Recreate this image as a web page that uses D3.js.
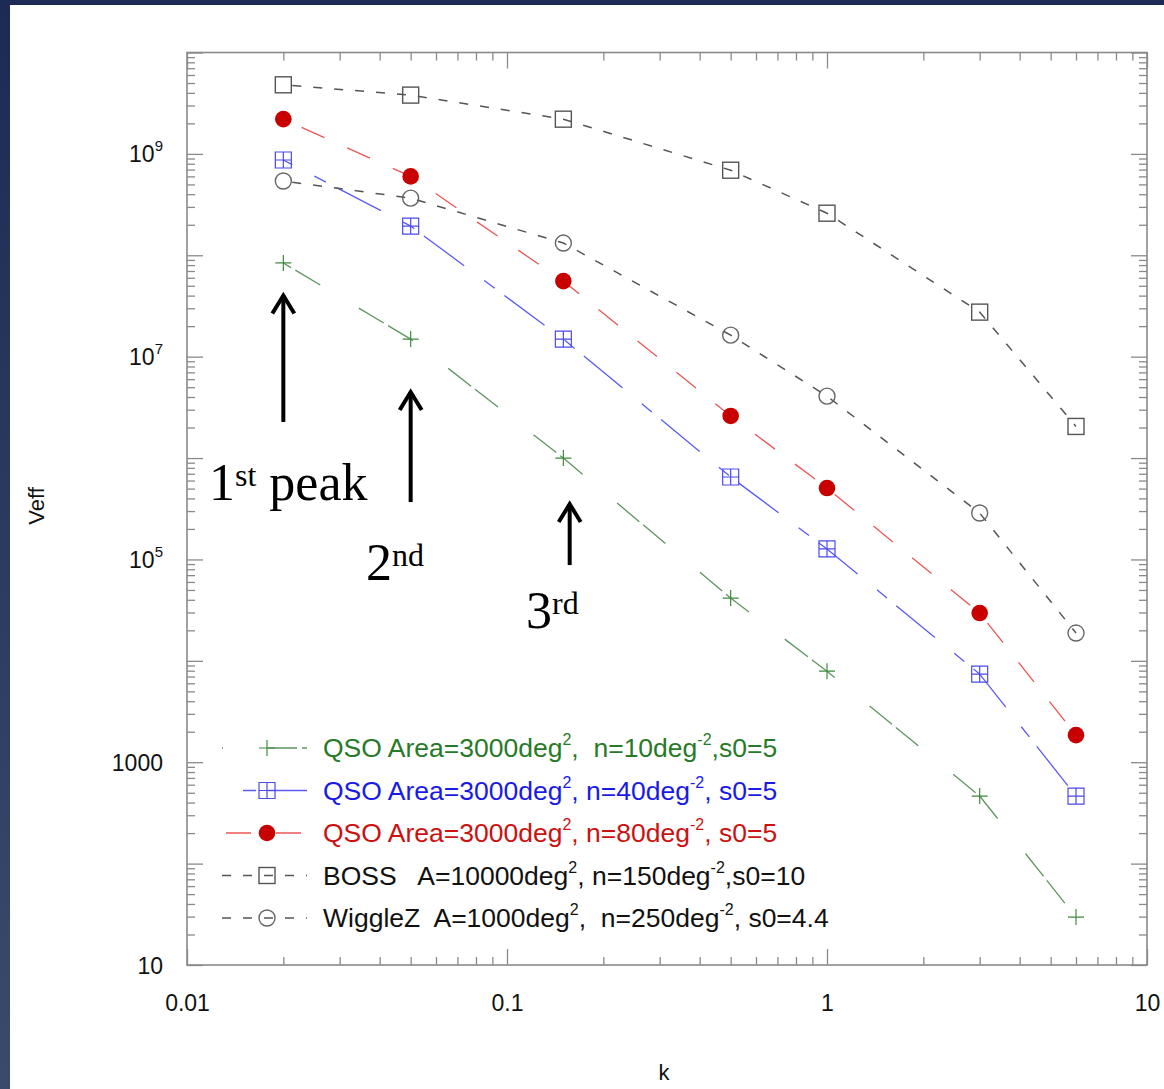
<!DOCTYPE html>
<html>
<head>
<meta charset="utf-8">
<script src="https://cdn.jsdelivr.net/npm/d3@7"></script>
<style>
  html, body { margin: 0; padding: 0; }
  body { width: 1164px; height: 1089px; overflow: hidden; background: #1c2c55; }
  svg text { font-family: "Liberation Sans", Arial, Helvetica, sans-serif; }
  svg text.serif { font-family: "Liberation Serif", "Times New Roman", serif; }
</style>
</head>
<body>
<svg id="chart" width="1164" height="1089"></svg>
<script>
// ---------------- data ----------------
const kValues = [0.02, 0.05, 0.15, 0.5, 1, 3, 6];
const qso10   = [8.4e7, 1.49e7, 1.0e6, 4.16e4, 7.9e3, 464, 29.7];
const qso40   = [8.7e8, 1.94e8, 1.49e7, 6.5e5, 1.27e5, 7.4e3, 464];
const qso80   = [2.2e9, 6.0e8, 5.56e7, 2.6e6, 5.06e5, 2.96e4, 1.85e3];
const boss    = [4.8e9, 3.8e9, 2.2e9, 6.9e8, 2.6e8, 2.75e7, 2.05e6];
const wigglez = [5.4e8, 3.66e8, 1.32e8, 1.63e7, 4.08e6, 2.87e5, 1.88e4];

const xTickValues = [0.01, 0.1, 1, 10];
const xTickLabels = ["0.01", "0.1", "1", "10"];
const yTickValues = [10, 1e3, 1e5, 1e7, 1e9];
const yTickLabels = [["10", ""], ["1000", ""], ["10", "5"], ["10", "7"], ["10", "9"]];

const legendNames = [
  [["QSO Area=3000deg", ""], ["2", "sup"], [",  n=10deg", ""], ["-2", "sup"], [",s0=5", ""]],
  [["QSO Area=3000deg", ""], ["2", "sup"], [", n=40deg", ""], ["-2", "sup"], [", s0=5", ""]],
  [["QSO Area=3000deg", ""], ["2", "sup"], [", n=80deg", ""], ["-2", "sup"], [", s0=5", ""]],
  [["BOSS   A=10000deg", ""], ["2", "sup"], [", n=150deg", ""], ["-2", "sup"], [",s0=10", ""]],
  [["WiggleZ  A=1000deg", ""], ["2", "sup"], [",  n=250deg", ""], ["-2", "sup"], [", s0=4.4", ""]]
];

// annotation arrows (data space: k, Veff from -> to)
const peakArrows = [
  { k: 0.02,  from: 2.27e6, to: 4.2e7 },
  { k: 0.05,  from: 3.68e5, to: 4.69e6 },
  { k: 0.157, from: 8.8e4,  to: 3.68e5 }
];

// ---------------- setup ----------------
const svg = d3.select("#chart");

const defs = svg.append("defs");
const grad = defs.append("linearGradient").attr("id", "bg").attr("x1", 0).attr("y1", 0).attr("x2", 0).attr("y2", 1);
grad.append("stop").attr("offset", "0%").attr("stop-color", "#1b2b54");
grad.append("stop").attr("offset", "100%").attr("stop-color", "#3b4a6c");
svg.append("rect").attr("x", 0).attr("y", 0).attr("width", 1164).attr("height", 1089).attr("fill", "url(#bg)");
svg.append("rect").attr("x", 10).attr("y", 5).attr("width", 1154).attr("height", 1084).attr("fill", "#ffffff");

const L = 187, R = 1147, T = 52.5, B = 965;
const x = d3.scaleLog().domain([0.01, 10]).range([L, R]);
const y = d3.scaleLog().domain([10, 1e10]).range([B, T]);

const xMinor = [];
[0.01, 0.1, 1].forEach(d => { for (let m = 2; m <= 9; m++) xMinor.push(d * m); });
const xMajor = [0.01, 0.1, 1, 10];
const yMinor = [];
const yMajor = [];
for (let p = 1; p <= 10; p++) {
  yMajor.push(Math.pow(10, p));
  if (p < 10) for (let m = 2; m <= 9; m++) yMinor.push(m * Math.pow(10, p));
}

const axisColor = "#8a8a8a";
function styleAxis(g) {
  g.select(".domain").remove();
  g.selectAll(".tick line").attr("stroke", axisColor).attr("stroke-width", 1.3);
}

// bottom
svg.append("g").attr("transform", `translate(0,${B})`)
  .call(d3.axisBottom(x).tickValues(xMinor).tickSize(-8).tickFormat("")).call(styleAxis);
const xAx = svg.append("g").attr("transform", `translate(0,${B})`)
  .call(d3.axisBottom(x).tickValues(xMajor).tickSize(-16).tickPadding(30)
    .tickFormat(d => xTickLabels[xTickValues.indexOf(d)])).call(styleAxis);
xAx.selectAll("text").attr("fill", "#111").attr("font-size", 23);
// top
svg.append("g").attr("transform", `translate(0,${T})`)
  .call(d3.axisTop(x).tickValues(xMinor).tickSize(-8).tickFormat("")).call(styleAxis);
svg.append("g").attr("transform", `translate(0,${T})`)
  .call(d3.axisTop(x).tickValues(xMajor).tickSize(-16).tickFormat("")).call(styleAxis);
// left
svg.append("g").attr("transform", `translate(${L},0)`)
  .call(d3.axisLeft(y).tickValues(yMinor).tickSize(-8).tickFormat("")).call(styleAxis);
svg.append("g").attr("transform", `translate(${L},0)`)
  .call(d3.axisLeft(y).tickValues(yMajor).tickSize(-16).tickFormat("")).call(styleAxis);
const yAx = svg.append("g").attr("transform", `translate(${L},0)`)
  .call(d3.axisLeft(y).tickValues(yTickValues).tickSize(0).tickPadding(24).tickFormat(""));
yAx.select(".domain").remove();
yAx.selectAll(".tick text").each(function (d) {
  const lab = yTickLabels[yTickValues.indexOf(d)];
  const t = d3.select(this).attr("fill", "#111").attr("font-size", 23).attr("dy", "0.35em");
  t.append("tspan").text(lab[0]);
  if (lab[1]) t.append("tspan").attr("font-size", 15).attr("dy", "-0.75em").text(lab[1]);
});
// right
svg.append("g").attr("transform", `translate(${R},0)`)
  .call(d3.axisRight(y).tickValues(yMinor).tickSize(-8).tickFormat("")).call(styleAxis);
svg.append("g").attr("transform", `translate(${R},0)`)
  .call(d3.axisRight(y).tickValues(yMajor).tickSize(-16).tickFormat("")).call(styleAxis);

// frame
svg.append("rect").attr("x", L).attr("y", T).attr("width", R - L).attr("height", B - T)
  .attr("fill", "none").attr("stroke", axisColor).attr("stroke-width", 1.6);

// axis titles
svg.append("text").attr("x", 664).attr("y", 1080).attr("text-anchor", "middle")
  .attr("font-size", 22).attr("fill", "#111").text("k");
svg.append("text").attr("transform", "translate(44,506) rotate(-90)").attr("text-anchor", "middle")
  .attr("font-size", 22).attr("fill", "#111").text("Veff");

// ---------------- series ----------------
const series = [
  { vals: qso10,   line: "#5f955f", text: "#277a27", dash: "29,5,29,45", off: 20,  lw: 1.3, marker: "plus",    mcol: "#3f8a3f", legOff: 62 },
  { vals: qso40,   line: "#5a5af5", text: "#1a1ae6", dash: "50,25,13,12", off: 40, lw: 1.3, marker: "boxplus", mcol: "#4a4af0", legOff: 54 },
  { vals: qso80,   line: "#ee5555", text: "#cc1111", dash: "25,25", off: 30,      lw: 1.3, marker: "dot",     mcol: "#c80000", legOff: 46 },
  { vals: boss,    line: "#555555", text: "#111111", dash: "9,12", off: 12,       lw: 1.5, marker: "square",  mcol: "#555555", legOff: 0 },
  { vals: wigglez, line: "#555555", text: "#111111", dash: "9,12", off: 12,       lw: 1.5, marker: "circle",  mcol: "#666666", legOff: 0 }
];

const lineGen = d3.line().x(d => x(d[0])).y(d => y(d[1]));

function drawMarker(g, type, cx, cy, col) {
  const s = 8;
  if (type === "plus") {
    g.append("path").attr("d", `M${cx - s},${cy}H${cx + s}M${cx},${cy - s}V${cy + s}`)
      .attr("stroke", col).attr("stroke-width", 1.2).attr("fill", "none");
  } else if (type === "boxplus") {
    g.append("path").attr("d", `M${cx - s},${cy - s}h${2 * s}v${2 * s}h${-2 * s}ZM${cx - s},${cy}H${cx + s}M${cx},${cy - s}V${cy + s}`)
      .attr("stroke", col).attr("stroke-width", 1.2).attr("fill", "none");
  } else if (type === "dot") {
    g.append("circle").attr("cx", cx).attr("cy", cy).attr("r", 8.3).attr("fill", col);
  } else if (type === "square") {
    g.append("rect").attr("x", cx - s).attr("y", cy - s).attr("width", 2 * s).attr("height", 2 * s)
      .attr("stroke", col).attr("stroke-width", 1.4).attr("fill", "none");
  } else if (type === "circle") {
    g.append("circle").attr("cx", cx).attr("cy", cy).attr("r", 8)
      .attr("stroke", col).attr("stroke-width", 1.4).attr("fill", "none");
  }
}

const plot = svg.append("g");
series.forEach(s => {
  const pts = kValues.map((k, i) => [k, s.vals[i]]);
  plot.append("path").attr("d", lineGen(pts)).attr("fill", "none")
    .attr("stroke", s.line).attr("stroke-width", s.lw)
    .attr("stroke-dasharray", s.dash).attr("stroke-dashoffset", s.off);
  const mg = plot.append("g");
  pts.forEach(p => drawMarker(mg, s.marker, x(p[0]), y(p[1]), s.mcol));
});

// ---------------- legend ----------------
const legY0 = 748, legDY = 42.5;
series.forEach((s, i) => {
  const yy = legY0 + i * legDY;
  const g = svg.append("g");
  g.append("line").attr("x1", 222).attr("x2", 307).attr("y1", yy).attr("y2", yy)
    .attr("stroke", s.line).attr("stroke-width", s.lw)
    .attr("stroke-dasharray", s.dash).attr("stroke-dashoffset", s.legOff);
  drawMarker(g, s.marker, 267, yy, s.mcol);
  const t = g.append("text").attr("x", 323).attr("y", yy + 9).attr("font-size", 26.5)
    .attr("fill", s.text).style("white-space", "pre");
  legendNames[i].forEach(part => {
    if (part[1] === "sup") {
      t.append("tspan").attr("font-size", 16).attr("dy", -12).text(part[0]);
    } else {
      const ts = t.append("tspan").text(part[0]);
      if (t.selectAll("tspan").size() > 1) ts.attr("dy", 12);
    }
  });
});

// ---------------- annotations ----------------
const ann = svg.append("g");
peakArrows.forEach(a => {
  const ax = x(a.k), y1 = y(a.from), y2 = y(a.to);
  ann.append("line").attr("x1", ax).attr("x2", ax).attr("y1", y1).attr("y2", y2 + 2)
    .attr("stroke", "#000").attr("stroke-width", 4);
  ann.append("path").attr("d", `M${ax - 11},${y2 + 20}L${ax},${y2 + 2}L${ax + 11},${y2 + 20}`)
    .attr("stroke", "#000").attr("stroke-width", 4).attr("fill", "none")
    .attr("stroke-linejoin", "miter").attr("stroke-linecap", "butt");
});
function serifLabel(xp, yp, big, sup, rest) {
  const t = ann.append("text").attr("class", "serif").attr("x", xp).attr("y", yp)
    .attr("font-size", 52).attr("fill", "#000").style("white-space", "pre");
  t.append("tspan").text(big);
  t.append("tspan").attr("font-size", 32).attr("dy", -14).text(sup);
  if (rest) t.append("tspan").attr("dy", 14).text(rest);
}
serifLabel(209, 500, "1", "st", " peak");
serifLabel(366, 580, "2", "nd", "");
serifLabel(526, 628, "3", "rd", "");
</script>
</body>
</html>
